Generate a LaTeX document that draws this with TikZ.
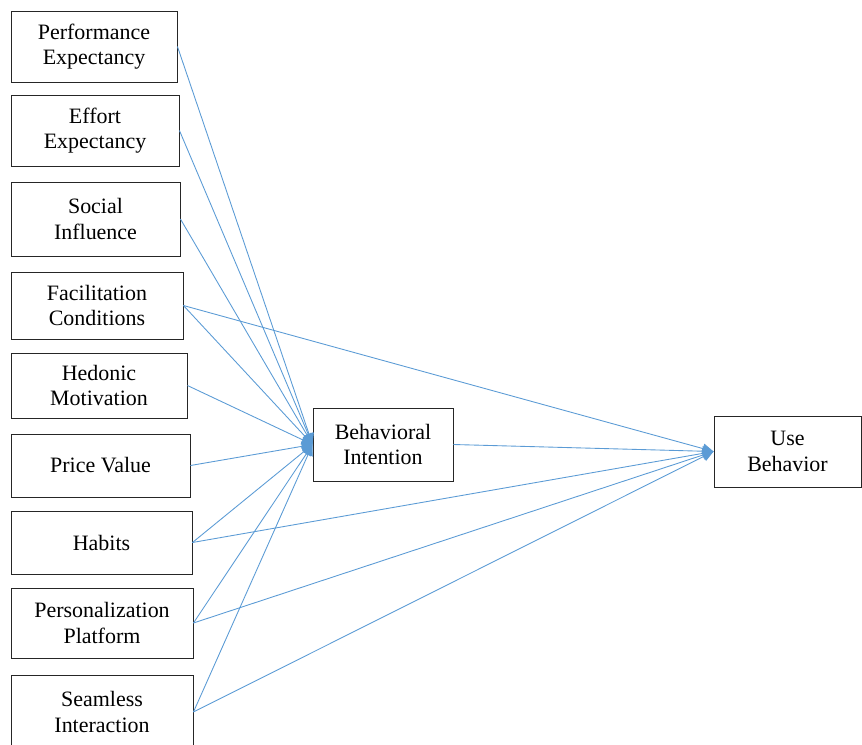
\documentclass[tikz,border=0pt]{standalone}
\usepackage{fontspec}
\setmainfont{Liberation Serif}
\usetikzlibrary{arrows.meta}
\definecolor{linkblue}{RGB}{91,155,213}

\begin{document}
\begin{tikzpicture}[x=0.02cm,y=-0.02cm,
    box/.style={draw=black!85, line width=0.5pt, align=center, inner sep=0pt,
      font=\fontsize{12.5}{14.6}\selectfont},
    link/.style={linkblue, line width=0.5pt,
      -{Triangle[length=0.22cm,width=0.2cm]}}]

  \def\xmin{0}
  \def\xmax{862}
  \def\ymin{0}
  \def\ymax{744}
  \useasboundingbox (\xmin,\ymin) rectangle (\xmax,\ymax);

  % factors on the left
  \foreach \n/\x/\y/\w/\h/\t in {
    pe/94/46.5/166/71/{Performance\\Expectancy},
    ee/95/130.5/168/71/{Effort\\Expectancy},
    si/95.5/219/169/74/{Social\\Influence},
    fc/97/305.5/172/67/{Facilitation\\Conditions},
    hm/99/385.5/176/65/{Hedonic\\Motivation},
    pv/100.5/465.5/179/63/{Price Value},
    hab/101.5/542.5/181/63/{Habits},
    pp/102/623/182/70/{Personalization\\Platform},
    sia/102/712/182/74/{Seamless\\Interaction}}
  \node[box, minimum width=\w*0.02cm, minimum height=\h*0.02cm]
    (\n) at (\x,\y) {\t};

  % intention and behavior
  \node[box, minimum width=140*0.02cm, minimum height=73*0.02cm]
    (bi) at (383,444.5) {Behavioral\\Intention};
  \node[box, minimum width=147*0.02cm, minimum height=71*0.02cm]
    (ub) at (787.5,451.5) {Use\\Behavior};

  % paths
  \foreach \n in {pe,ee,si,fc,hm,pv,hab,pp,sia}
  \draw[link] (\n.east) -- (bi.west);
  \foreach \n in {bi,fc,hab,pp,sia}
  \draw[link] (\n.east) -- (ub.west);

\end{tikzpicture}
\end{document}
